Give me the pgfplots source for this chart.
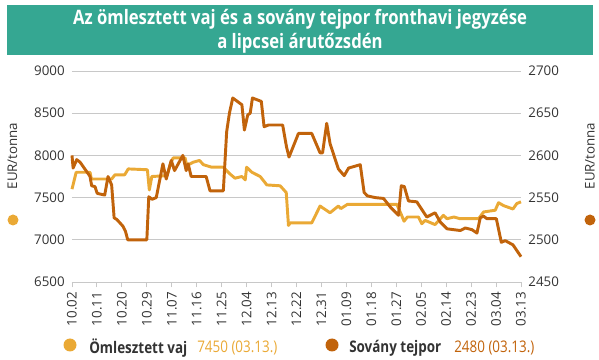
\documentclass[border=0pt]{standalone}
\usepackage{pgfplots}
\pgfplotsset{compat=1.18}
\usepackage{fontspec}
\setmainfont{Open Sans}
\newfontfamily\condfont{Open Sans}[FakeStretch=0.84]
\definecolor{bannerteal}{HTML}{35A792}
\definecolor{butter}{HTML}{EAA935}
\definecolor{smp}{HTML}{C1630B}
\definecolor{txt}{HTML}{333333}
\definecolor{gridc}{HTML}{C8C8C8}
\pgfplotsset{
  base/.style={
    at={(54pt,58.5pt)}, anchor=south west, scale only axis,
    width=336.75pt, height=158.25pt,
    xmin=0, xmax=162,
    tick label style={font=\fontsize{10pt}{12pt}\selectfont, text=txt},
    /pgf/number format/assume math mode=true,
    /pgf/number format/set thousands separator={},
    ytick style={draw=none},
    clip=false,
  }
}
\begin{document}
\begin{tikzpicture}[x=0.75pt,y=0.75pt]
\path[use as bounding box] (0,0) rectangle (599,360);
\fill[bannerteal] (6.5,305) rectangle (593,355);
\node[text=white, font=\condfont\bfseries\fontsize{14.9pt}{18pt}\selectfont, align=center] at (300,328.5) {Az ömlesztett vaj és a sovány tejpor fronthavi jegyzése\\a lipcsei árutőzsdén};

\begin{axis}[base,
  ymin=6500, ymax=9000, ytick={6500,7000,...,9000},
  axis x line*=bottom, axis y line*=left,
  y axis line style={draw=none},
  x axis line style={gridc, line width=0.7pt},
  ymajorgrids, grid style={gridc, line width=0.7pt},
  xtick={0,9,...,162},
  xticklabels={10.02,10.11,10.20,10.29,11.07,11.16,11.25,12.04,12.13,12.22,12.31,01.09,01.18,01.27,02.05,02.14,02.23,03.04,03.13},
  xtick align=outside, xtick style={gridc, line width=0.7pt},
  major tick length=4pt,
  xticklabel style={rotate=90, anchor=east, xshift=0pt},
  yticklabel style={xshift=-2pt},
]
\addplot[butter, line width=2.2pt, line join=round] coordinates {
(0,7600)(1.5,7800)(6.5,7800)(7,7720)(14.3,7720)(15.5,7770)(19,7770)(20.3,7840)
(27.2,7830)(27.9,7590)(28.8,7750)(34.3,7760)(35.5,7900)(36.5,7970)(40.8,7970)
(41.4,7880)(43.8,7920)(46,7940)(47.4,7890)(50.4,7860)(54.6,7860)(57,7780)
(58.8,7730)(61.3,7750)(62.5,7710)(63,7860)(64.9,7800)(67.9,7750)(70.3,7650)
(75.1,7640)(77.3,7560)(78.1,7170)(78.7,7200)(86.5,7200)(89.5,7400)(93.1,7320)
(96.1,7400)(97,7370)(99.4,7420)(117.2,7420)(118.8,7300)(119.8,7220)(121,7270)
(125,7270)(126.2,7190)(127.4,7230)(131,7180)(134,7290)(135.3,7250)(137.8,7270)
(140,7250)(146.7,7250)(148.5,7330)(152.7,7350)(153.9,7440)(155.7,7405)
(159.1,7365)(160.5,7430)(162,7450)
};
\end{axis}

\begin{axis}[base,
  ymin=2450, ymax=2700, ytick={2450,2500,...,2700},
  axis y line*=right, axis x line=none,
  y axis line style={draw=none},
  yticklabel style={xshift=2pt},
]
\addplot[smp, line width=2.2pt, line join=round] coordinates {
(0,2600)(0.4,2585)(1.7,2595)(2.9,2592)(5.9,2578)(6.5,2575)(7.1,2564)(8.3,2563)
(9.1,2555)(11.8,2553)(13,2575)(14.3,2565)(15.2,2526)(16.2,2524)(18.4,2516)
(19.3,2510)(20.1,2500)(27,2500)(27.7,2551)(28.9,2548)(30.4,2550)(32.8,2590)
(34,2572)(35.8,2594)(37,2582)(40,2600)(41.2,2582)(41.9,2590)(43,2575)(48.4,2575)
(49.8,2558)(54.6,2558)(55.8,2628)(56.8,2650)(58,2668)(61.3,2660)(62.2,2630)
(63.4,2648)(64.3,2650)(65.1,2668)(68.3,2664)(69.3,2634)(70.9,2636)(76,2636)
(77.4,2610)(78.3,2598)(81.7,2626)(86.5,2626)(89.5,2603)(90.4,2603)(91.9,2638)
(93.1,2614)(96.1,2584)(98.2,2576)(99.8,2585)(104,2589)(105.4,2556)(106.6,2552)
(109.4,2550)(112.4,2549)(114.8,2539)(117.8,2529)(118.8,2564)(119.9,2563)
(121.4,2546)(124.4,2545)(128,2527)(131,2532)(132.9,2521)(135.3,2513)(140.1,2511)
(141.9,2514)(144.3,2512)(146.1,2508)(147.3,2526)(148.5,2528)(149.7,2525)
(153.1,2525)(154.9,2497)(156.3,2499)(159.1,2494)(162,2480)
};
\end{axis}

\node[rotate=90, text=txt, font=\fontsize{10pt}{12pt}\selectfont] at (12.5,204) {EUR/tonna};
\fill[butter] (13,140) circle (5.5);
\node[rotate=90, text=txt, font=\fontsize{10pt}{12pt}\selectfont] at (590,204) {EUR/tonna};
\fill[smp] (590,140) circle (5.5);

\fill[butter] (70,15) circle (6.5);
\node[anchor=west, inner sep=0pt, text=txt, font=\condfont\bfseries\fontsize{12pt}{14pt}\selectfont] at (89,12) {Ömlesztett vaj};
\node[anchor=west, inner sep=0pt, text=butter, font=\condfont\fontsize{12pt}{14pt}\selectfont] at (197,12) {7450 (03.13.)};
\fill[smp] (332,15) circle (6.5);
\node[anchor=west, inner sep=0pt, text=txt, font=\condfont\bfseries\fontsize{12pt}{14pt}\selectfont] at (349,12) {Sovány tejpor};
\node[anchor=west, inner sep=0pt, text=smp, font=\condfont\fontsize{12pt}{14pt}\selectfont] at (454,12) {2480 (03.13.)};
\end{tikzpicture}
\end{document}
